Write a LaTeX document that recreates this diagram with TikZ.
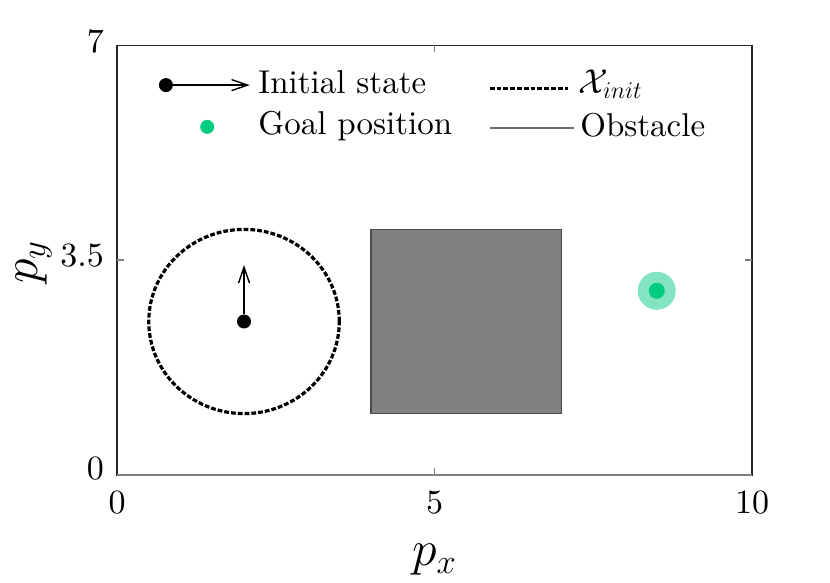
\documentclass[tikz,border=0pt]{standalone}
\usepackage{fontspec}
\setmainfont{lmroman10-regular.otf}
\usepackage{tikz}
\usetikzlibrary{arrows.meta}

\definecolor{goalgreen}{RGB}{0,204,128}
\definecolor{goallight}{RGB}{130,228,192}
\definecolor{obstgray}{RGB}{128,128,128}

\begin{document}
\begin{tikzpicture}[x=31.75pt,y=30.7pt,
	tick label/.style={font=\fontsize{17}{20}\selectfont,inner sep=0pt},
	legend text/.style={font=\fontsize{16.5}{20}\selectfont,anchor=base west,inner sep=0pt},
	axis label/.style={font=\fontsize{25}{30}\selectfont,inner sep=0pt},
	dot/.style={circle,fill=black,inner sep=0pt,minimum size=7pt},
	goal dot/.style={circle,fill=goalgreen,inner sep=0pt,minimum size=7pt},
	heading arrow/.style={-{Straight Barb[length=8pt,width=5.5pt]},line width=0.7pt},
	init set/.style={draw=black,line width=1.6pt,dash pattern=on 2.4pt off 1pt},
	obstacle/.style={draw=black!70,fill=obstgray,line width=0.6pt},
	tick/.style={black!50,line width=0.6pt}]
	
	\useasboundingbox (-1.843,-1.743) rectangle (11.228,7.736);
	
	% axes
	\draw[black!85,line width=0.6pt] (0,0) rectangle (10,7);
	\draw[black!50,line width=0.6pt] (0,0) -- (10,0);
	\draw[tick] (5,0) -- (5,0.11);
	\draw[tick] (5,7) -- (5,6.89);
	\draw[tick] (0,3.5) -- (0.11,3.5);
	\draw[tick] (10,3.5) -- (9.89,3.5);
	
	\node[tick label] (x0) at (0,-0.45) {0};
	\node[tick label] (x5) at (5,-0.45) {5};
	\node[tick label] (x10) at (10,-0.45) {10};
	\node[tick label,anchor=east] (y0) at (-0.2,0.1) {0};
	\node[tick label,anchor=east] (y35) at (-0.2,3.58) {3.5};
	\node[tick label,anchor=east] (y7) at (-0.2,7.07) {7};
	
	\node[axis label] (px) at (5,-1.38) {$p_x$};
	\node[axis label,rotate=90] (py) at (-1.31,3.47) {$p_y$};
	
	% scene
	\draw[obstacle] (4,1) rectangle (7,4);
	\draw[init set] (2,2.5) ellipse (1.5 and 1.5);
	
	\node[dot] (init) at (2,2.5) {};
	\coordinate (heading) at (2,3.42);
	\draw[heading arrow] (init) -- (heading);
	
	\node[circle,fill=goallight,inner sep=0pt,minimum size=19pt] (goalzone) at (8.5,3) {};
	\node[goal dot,minimum size=8pt] (goal) at (goalzone) {};
	
	% legend
	\node[dot] (leg init) at (0.77,6.35) {};
	\coordinate (leg head) at (2.09,6.35);
	\draw[heading arrow] (leg init) -- (leg head);
	\node[legend text] (txt init) at (2.22,6.22) {Initial state};
	
	\node[goal dot] (leg goal) at (1.42,5.67) {};
	\node[legend text] (txt goal) at (2.22,5.54) {Goal position};
	
	\coordinate (leg set a) at (5.87,6.29);
	\coordinate (leg set b) at (7.10,6.29);
	\draw[init set] (leg set a) -- (leg set b);
	\node[legend text] (txt set) at (7.26,6.22) {$\mathcal{X}_{init}$};
	
	\coordinate (leg obs a) at (5.87,5.65);
	\coordinate (leg obs b) at (7.20,5.65);
	\draw[black!60,line width=0.6pt] (leg obs a) -- (leg obs b);
	\node[legend text] (txt obs) at (7.29,5.52) {Obstacle};
\end{tikzpicture}
\end{document}
